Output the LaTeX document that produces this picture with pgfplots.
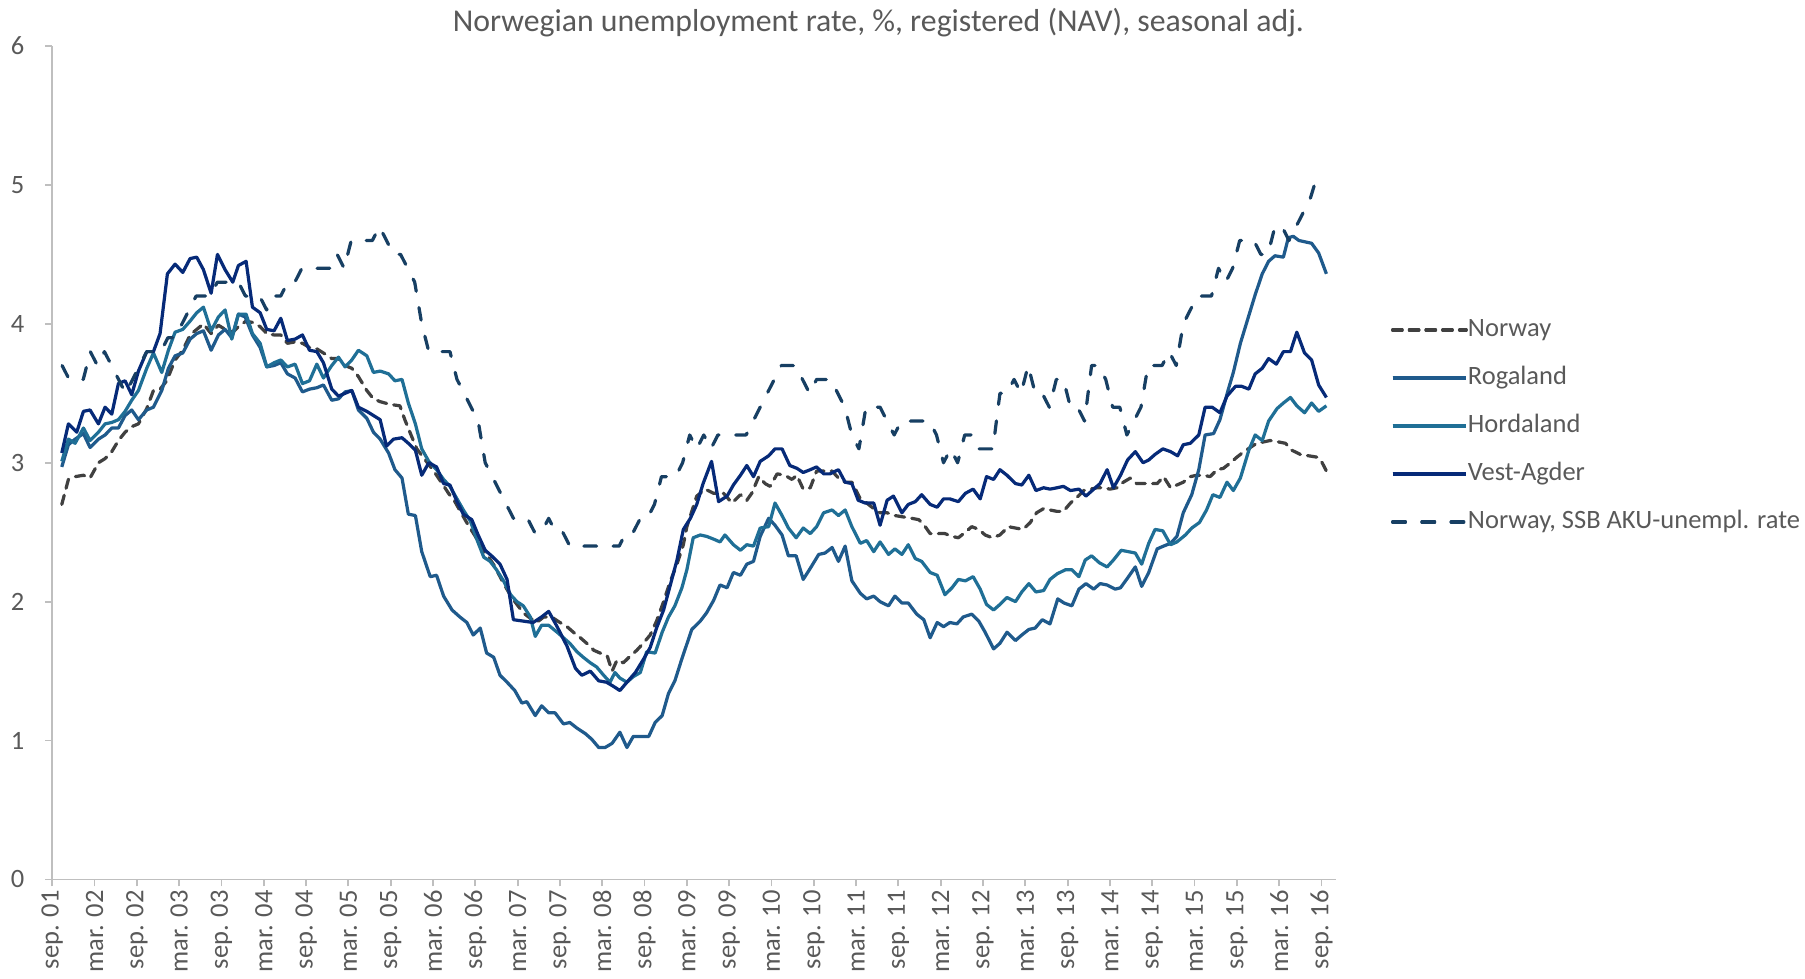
\documentclass[border=0pt]{standalone}
\usepackage{fontspec}
\setmainfont{Carlito}
\usepackage{pgfplots}
\pgfplotsset{compat=1.18}
\definecolor{txtgrey}{HTML}{595959}
\definecolor{axgrey}{HTML}{BFBFBF}
\definecolor{cNorway}{HTML}{404040}
\definecolor{cRoga}{HTML}{1F5A8C}
\definecolor{cHorda}{HTML}{1F6F96}
\definecolor{cVest}{HTML}{062A78}
\definecolor{cSSB}{HTML}{173F63}
\begin{document}
\begin{tikzpicture}
\useasboundingbox (0,0) rectangle (784pt,425pt);
\node[text=txtgrey, font=\fontsize{13.8}{16}\selectfont] at (381.5pt,415pt) {Norwegian unemployment rate, \%, registered (NAV), seasonal adj.};
\begin{axis}[
  at={(22.7pt,43pt)}, anchor=south west,
  scale only axis, width=557.4pt, height=362pt,
  xmin=0, xmax=182, ymin=0, ymax=6,
  axis lines*=left,
  axis line style={draw=axgrey, line width=0.8pt},
  tick style={draw=axgrey, line width=0.8pt},
  tick align=outside, major tick length=3pt,
  xtick={0,6,...,180},
  xticklabels={sep. 01,mar. 02,sep. 02,mar. 03,sep. 03,mar. 04,sep. 04,mar. 05,sep. 05,mar. 06,sep. 06,mar. 07,sep. 07,mar. 08,sep. 08,mar. 09,sep. 09,mar. 10,sep. 10,mar. 11,sep. 11,mar. 12,sep. 12,mar. 13,sep. 13,mar. 14,sep. 14,mar. 15,sep. 15,mar. 16,sep. 16},
  xticklabel style={rotate=90, anchor=east, inner sep=1.5pt, text=txtgrey, font=\fontsize{11.5}{13}\selectfont},
  ytick={0,1,2,3,4,5,6},
  yticklabels={0,1,2,3,4,5,6},
  yticklabel style={inner sep=0pt, xshift=-9pt, anchor=east, text=txtgrey, font=\fontsize{11.5}{13}\selectfont},
  line join=round,
  legend cell align=left,
  legend style={at={(1.0429,0.6743)}, anchor=north west, draw=none, fill=none, inner sep=0pt,
    row sep=10.35pt, font=\fontsize{11.5}{13}\selectfont, text=txtgrey,
    nodes={inner sep=0pt, text height=8pt, text depth=2.5pt}},
  legend image code/.code={\draw[#1] (0pt,0pt) -- (27.5pt,0pt); \path (0pt,0pt) -- (32pt,0pt);},
]
% Norway (NAV)
\addplot[cNorway, line width=1.4pt, line cap=round, dash pattern=on 4.1pt off 3.15pt] coordinates {
(1.35,2.70)(2.29,2.88)(3.24,2.90)(4.42,2.91)(5.36,2.89)(6.55,3.00)(7.49,3.03)(8.44,3.08)(9.38,3.16)(10.33,3.22)(11.27,3.26)(12.22,3.28)(13.40,3.39)(14.35,3.52)(15.29,3.53)(16.24,3.59)(17.42,3.74)(18.51,3.81)(19.55,3.92)(20.49,3.96)(21.44,4.00)(22.53,3.93)(23.57,3.99)(24.51,3.96)(25.60,3.94)(26.40,3.98)(27.49,4.02)(28.39,4.01)(29.48,3.98)(30.42,3.93)(31.46,3.92)(32.41,3.92)(33.35,3.86)(34.44,3.87)(35.48,3.86)(36.48,3.83)(37.52,3.82)(38.46,3.79)(39.64,3.75)(40.59,3.75)(41.53,3.70)(42.48,3.68)(43.42,3.62)(44.61,3.52)(45.55,3.46)(46.50,3.44)
(47.9,3.42)(49.3,3.41)(50.0,3.31)(50.8,3.21)(51.7,3.10)(52.9,3.02)(54.1,2.94)(55.3,2.85)(56.2,2.78)(57.1,2.72)(58.1,2.63)(59.0,2.55)(60.0,2.47)(60.9,2.38)(61.9,2.32)(62.8,2.25)(63.8,2.15)(64.7,2.07)(65.6,2.00)(66.8,1.92)(67.8,1.88)(68.7,1.85)(69.7,1.89)(70.8,1.89)(72.0,1.85)(73.0,1.82)(73.9,1.78)(74.9,1.74)(75.8,1.70)(76.8,1.65)(77.7,1.63)(78.7,1.61)(79.4,1.50)(80.1,1.58)(81.0,1.56)(82.0,1.61)(82.9,1.65)(83.8,1.70)(84.8,1.76)(85.7,1.86)(86.7,2.00)(87.6,2.14)(88.6,2.27)(89.5,2.41)
(90.0,2.54)(91.4,2.76)(92.6,2.81)(93.8,2.78)(95.2,2.78)(96.4,2.71)(97.6,2.77)(98.5,2.73)(99.2,2.78)(100.2,2.90)(101.1,2.85)(101.8,2.83)(102.8,2.92)(103.9,2.91)(104.9,2.88)(105.6,2.91)(106.5,2.81)(107.5,2.82)(108.4,2.94)(109.4,2.94)(110.6,2.94)(111.5,2.89)(112.45,2.86)(113.4,2.86)(114.6,2.74)(115.5,2.71)(116.5,2.67)(117.4,2.64)(118.4,2.64)(119.5,2.62)(120.7,2.61)(121.9,2.60)(122.9,2.59)(123.8,2.54)(124.5,2.49)(125.5,2.49)(126.6,2.49)(127.6,2.47)(128.5,2.46)(129.5,2.50)(130.4,2.54)(131.4,2.52)(132.3,2.48)(133.3,2.46)
(134.4,2.48)(135.6,2.54)(136.6,2.53)(137.7,2.52)(138.7,2.57)(139.6,2.64)(140.6,2.67)(141.5,2.66)(142.5,2.65)(143.4,2.65)(144.4,2.71)(145.3,2.75)(146.3,2.80)(147.2,2.81)(148.2,2.82)(149.1,2.82)(150.0,2.81)(151.0,2.82)(151.9,2.86)(152.9,2.89)(153.8,2.85)(154.8,2.85)(155.7,2.85)(156.7,2.85)(157.6,2.90)(158.6,2.82)(159.5,2.84)(160.4,2.86)(161.4,2.90)(162.3,2.91)(163.3,2.91)(164.2,2.90)(165.2,2.95)(166.1,2.96)(167.1,3.00)(168.0,3.04)(169.0,3.08)(169.9,3.11)(170.8,3.14)(171.8,3.15)(172.7,3.16)(173.9,3.15)(174.9,3.14)(175.8,3.09)(177.0,3.06)(178.2,3.05)(179.4,3.04)(180.1,3.00)(180.7,2.94)
};
\addlegendentry{Norway}
% Rogaland
\addplot[cRoga, line width=1.4pt] coordinates {
(1.35,2.97)(2.29,3.13)(3.24,3.17)(4.42,3.21)(5.36,3.11)(6.55,3.17)(7.49,3.20)(8.44,3.25)(9.38,3.25)(10.33,3.34)(11.27,3.38)(12.22,3.31)(13.40,3.38)(14.35,3.40)(15.53,3.52)(16.47,3.68)(17.42,3.77)(18.51,3.79)(19.55,3.89)(20.49,3.93)(21.44,3.95)(22.53,3.81)(23.57,3.92)(24.51,3.96)(25.46,3.90)(26.40,4.07)(27.35,4.05)(28.39,3.92)(29.48,3.83)(30.42,3.69)(31.46,3.70)(32.41,3.72)(33.35,3.64)(34.44,3.61)(35.48,3.51)(36.48,3.53)(37.52,3.54)(38.46,3.56)(39.64,3.45)(40.59,3.46)(41.53,3.51)(42.48,3.52)(43.42,3.38)(44.61,3.32)(45.55,3.22)(46.50,3.17)
(47.7,3.07)(48.6,2.95)(49.6,2.89)(50.5,2.63)(51.5,2.62)(52.4,2.36)(53.6,2.18)(54.5,2.19)(55.5,2.04)(56.7,1.94)(57.8,1.89)(58.8,1.85)(59.7,1.76)(60.7,1.81)(61.6,1.63)(62.6,1.60)(63.5,1.47)(64.5,1.42)(65.6,1.36)(66.6,1.27)(67.3,1.28)(68.5,1.18)(69.4,1.25)(70.4,1.20)(71.3,1.20)(72.5,1.12)(73.4,1.13)(74.4,1.09)(75.6,1.05)(76.5,1.01)(77.5,0.95)(78.4,0.95)(79.4,0.98)(80.5,1.06)(81.5,0.95)(82.4,1.03)(83.6,1.03)(84.6,1.03)(85.5,1.13)(86.5,1.18)(87.4,1.34)(88.3,1.43)(89.3,1.59)
(90.7,1.80)(91.9,1.86)(92.8,1.92)(93.8,2.01)(94.7,2.12)(95.7,2.10)(96.6,2.21)(97.6,2.19)(98.5,2.27)(99.45,2.29)(100.4,2.47)(101.6,2.60)(102.5,2.55)(103.5,2.48)(104.4,2.33)(105.5,2.33)(106.5,2.16)(107.5,2.24)(108.7,2.34)(109.6,2.35)(110.6,2.39)(111.5,2.29)(112.45,2.40)(113.4,2.15)(114.6,2.06)(115.5,2.02)(116.5,2.04)(117.4,2.00)(118.6,1.97)(119.5,2.04)(120.5,1.99)(121.4,1.99)(122.6,1.91)(123.6,1.87)(124.5,1.74)(125.5,1.85)(126.4,1.82)(127.3,1.85)(128.3,1.84)(129.2,1.89)(130.4,1.91)(131.4,1.86)(132.3,1.78)(133.5,1.66)
(134.4,1.70)(135.4,1.78)(136.6,1.72)(137.5,1.76)(138.5,1.80)(139.4,1.81)(140.4,1.87)(141.5,1.84)(142.6,2.02)(143.5,1.99)(144.6,1.97)(145.6,2.09)(146.6,2.13)(147.7,2.09)(148.6,2.13)(149.6,2.12)(150.75,2.09)(151.5,2.10)(152.5,2.17)(153.6,2.25)(154.5,2.11)(155.5,2.21)(156.7,2.38)(157.6,2.40)(158.6,2.42)(159.5,2.47)(160.4,2.64)(161.6,2.77)(162.6,2.95)(163.5,3.20)(164.7,3.21)(165.6,3.31)(166.8,3.53)(167.5,3.65)(168.5,3.86)(169.7,4.06)(170.6,4.21)(171.6,4.36)(172.5,4.45)(173.4,4.49)(174.6,4.48)(175.3,4.62)(176.0,4.63)(176.8,4.60)(177.7,4.59)(178.6,4.58)(179.6,4.51)(180.7,4.36)
};
\addlegendentry{Rogaland}
% Hordaland
\addplot[cHorda, line width=1.4pt] coordinates {
(1.35,3.01)(2.29,3.17)(3.24,3.14)(4.42,3.25)(5.36,3.16)(6.55,3.22)(7.49,3.28)(8.44,3.29)(9.38,3.31)(10.33,3.37)(11.27,3.45)(12.22,3.52)(13.40,3.68)(14.35,3.79)(15.53,3.65)(16.47,3.81)(17.42,3.94)(18.51,3.96)(19.55,4.02)(20.49,4.08)(21.44,4.12)(22.53,3.95)(23.57,4.05)(24.51,4.10)(25.46,3.89)(26.40,4.07)(27.49,4.07)(28.39,3.93)(29.48,3.86)(30.42,3.69)(31.46,3.72)(32.41,3.74)(33.35,3.69)(34.44,3.71)(35.48,3.57)(36.48,3.59)(37.52,3.71)(38.46,3.61)(39.64,3.70)(40.59,3.76)(41.53,3.69)(42.48,3.74)(43.42,3.81)(44.61,3.77)(45.55,3.65)(46.50,3.66)
(47.7,3.64)(48.6,3.59)(49.6,3.60)(50.5,3.43)(51.5,3.28)(52.4,3.10)(53.4,3.01)(54.5,2.95)(55.5,2.88)(56.4,2.83)(57.4,2.74)(58.3,2.66)(59.3,2.58)(60.2,2.45)(61.2,2.32)(62.1,2.29)(63.0,2.23)(64.0,2.15)(65.0,2.05)(65.9,2.00)(66.8,1.97)(67.8,1.89)(68.5,1.75)(69.4,1.83)(70.4,1.83)(71.6,1.78)(72.5,1.74)(73.4,1.70)(74.4,1.64)(75.3,1.60)(76.3,1.56)(77.2,1.53)(78.2,1.47)(79.1,1.42)(79.8,1.49)(80.5,1.45)(81.5,1.42)(82.4,1.46)(83.4,1.49)(84.3,1.64)(85.5,1.63)(86.5,1.78)(87.4,1.89)(88.3,1.97)(89.3,2.10)
(90.0,2.23)(90.9,2.46)(91.9,2.48)(92.8,2.47)(93.8,2.45)(94.7,2.43)(95.4,2.48)(96.6,2.41)(97.6,2.37)(98.5,2.41)(99.45,2.40)(100.4,2.53)(101.6,2.54)(102.5,2.71)(103.5,2.62)(104.4,2.53)(105.5,2.46)(106.5,2.53)(107.5,2.49)(108.4,2.54)(109.4,2.64)(110.6,2.66)(111.5,2.62)(112.45,2.66)(113.4,2.54)(114.6,2.42)(115.5,2.44)(116.5,2.36)(117.4,2.43)(118.6,2.34)(119.5,2.38)(120.5,2.34)(121.4,2.41)(122.4,2.31)(123.3,2.29)(124.5,2.21)(125.5,2.19)(126.6,2.05)(127.6,2.10)(128.5,2.16)(129.5,2.15)(130.6,2.18)(131.6,2.09)(132.5,1.98)(133.5,1.94)
(134.4,1.98)(135.4,2.03)(136.6,2.00)(137.5,2.07)(138.5,2.13)(139.5,2.07)(140.6,2.08)(141.5,2.16)(142.5,2.20)(143.7,2.23)(144.6,2.23)(145.6,2.18)(146.5,2.30)(147.4,2.33)(148.5,2.28)(149.6,2.25)(150.5,2.30)(151.6,2.37)(152.6,2.36)(153.6,2.35)(154.5,2.27)(155.5,2.42)(156.4,2.52)(157.5,2.51)(158.6,2.41)(159.5,2.43)(160.7,2.48)(161.6,2.53)(162.7,2.57)(163.7,2.66)(164.6,2.77)(165.6,2.75)(166.6,2.86)(167.5,2.80)(168.5,2.89)(169.7,3.09)(170.6,3.20)(171.6,3.16)(172.5,3.30)(173.7,3.39)(174.6,3.43)(175.6,3.47)(176.5,3.41)(177.6,3.36)(178.6,3.43)(179.6,3.37)(180.7,3.41)
};
\addlegendentry{Hordaland}
% Vest-Agder
\addplot[cVest, line width=1.4pt] coordinates {
(1.35,3.07)(2.29,3.28)(3.47,3.22)(4.42,3.37)(5.36,3.38)(6.55,3.28)(7.49,3.40)(8.44,3.35)(9.38,3.57)(10.33,3.59)(11.27,3.49)(12.22,3.66)(13.40,3.80)(14.35,3.80)(15.29,3.93)(16.33,4.36)(17.42,4.43)(18.51,4.37)(19.55,4.47)(20.49,4.48)(21.44,4.39)(22.53,4.22)(23.43,4.50)(24.51,4.39)(25.60,4.30)(26.40,4.42)(27.49,4.45)(28.39,4.12)(29.48,4.08)(30.42,3.96)(31.46,3.95)(32.41,4.04)(33.35,3.88)(34.44,3.89)(35.48,3.92)(36.48,3.81)(37.52,3.80)(38.46,3.72)(39.64,3.53)(40.59,3.48)(41.53,3.50)(42.48,3.52)(43.42,3.40)(44.61,3.37)(45.55,3.34)(46.50,3.31)
(47.4,3.12)(48.4,3.17)(49.6,3.18)(50.5,3.14)(51.5,3.09)(52.4,2.91)(53.4,3.00)(54.5,2.97)(55.5,2.85)(56.4,2.84)(57.4,2.72)(58.3,2.63)(59.5,2.59)(60.4,2.48)(61.4,2.37)(62.3,2.33)(63.5,2.27)(64.5,2.16)(65.4,1.87)(66.8,1.86)(68.2,1.85)(69.4,1.89)(70.4,1.93)(71.6,1.82)(73.0,1.68)(74.2,1.52)(75.1,1.47)(76.3,1.50)(77.5,1.43)(78.6,1.42)(79.6,1.39)(80.5,1.36)(81.5,1.42)(82.7,1.49)(83.9,1.59)(84.8,1.67)(85.7,1.81)(86.7,1.94)(87.6,2.11)(88.6,2.30)
(89.5,2.52)(90.5,2.60)(91.4,2.70)(92.3,2.85)(93.5,3.01)(94.5,2.72)(95.7,2.76)(96.6,2.84)(97.6,2.91)(98.5,2.98)(99.45,2.90)(100.4,3.01)(101.6,3.05)(102.5,3.10)(103.5,3.10)(104.6,2.98)(105.6,2.96)(106.5,2.93)(107.5,2.95)(108.4,2.97)(109.4,2.92)(110.3,2.92)(111.5,2.95)(112.45,2.86)(113.4,2.85)(114.3,2.73)(115.3,2.71)(116.5,2.71)(117.4,2.55)(118.4,2.73)(119.3,2.76)(120.5,2.64)(121.4,2.70)(122.4,2.72)(123.3,2.77)(124.5,2.70)(125.5,2.68)(126.4,2.74)(127.3,2.74)(128.5,2.72)(129.5,2.78)(130.6,2.81)(131.6,2.74)(132.5,2.90)(133.5,2.88)
(134.4,2.95)(135.4,2.91)(136.6,2.85)(137.5,2.84)(138.5,2.91)(139.5,2.80)(140.6,2.82)(141.5,2.81)(142.5,2.82)(143.4,2.83)(144.4,2.80)(145.6,2.81)(146.6,2.76)(147.7,2.81)(148.6,2.85)(149.6,2.95)(150.5,2.82)(151.5,2.91)(152.5,3.02)(153.6,3.08)(154.7,3.00)(155.5,3.02)(156.4,3.06)(157.5,3.10)(158.6,3.08)(159.6,3.05)(160.4,3.13)(161.4,3.14)(162.6,3.20)(163.5,3.40)(164.5,3.40)(165.6,3.36)(166.6,3.48)(167.8,3.55)(168.7,3.55)(169.7,3.53)(170.6,3.64)(171.6,3.68)(172.5,3.75)(173.6,3.71)(174.6,3.80)(175.6,3.80)(176.5,3.94)(177.6,3.79)(178.6,3.74)(179.6,3.56)(180.7,3.47)
};
\addlegendentry{Vest-Agder}
% Norway, SSB AKU
\addplot[cSSB, line width=1.4pt, line cap=round, dash pattern=on 5.5pt off 7.2pt] coordinates {
(1.4,3.7)(2.4,3.6)(3.4,3.6)(4.4,3.6)(5.4,3.8)(6.4,3.7)(7.4,3.8)(8.4,3.7)(9.4,3.6)(10.4,3.5)(11.4,3.6)(12.4,3.7)(13.4,3.8)(14.4,3.8)(15.4,3.8)(16.4,3.9)(17.4,3.9)(18.4,4.0)(19.4,4.1)(20.4,4.2)(21.4,4.2)(22.4,4.2)(23.4,4.3)(24.4,4.3)(25.4,4.3)(26.4,4.3)(27.4,4.2)(28.4,4.2)(29.4,4.2)(30.4,4.1)(31.4,4.2)(32.4,4.2)(33.4,4.3)(34.4,4.3)(35.4,4.4)(36.4,4.4)(37.4,4.4)(38.4,4.4)(39.4,4.4)(40.4,4.5)(41.4,4.4)(42.4,4.6)(43.4,4.6)(44.4,4.6)(45.4,4.6)(46.4,4.7)(47.4,4.6)(48.4,4.5)(49.4,4.5)(50.4,4.4)(51.4,4.3)(52.4,4.0)(53.4,3.8)(54.4,3.8)(55.4,3.8)(56.4,3.8)(57.4,3.6)(58.4,3.5)(59.4,3.4)(60.4,3.3)(61.4,3.0)(62.4,2.9)(63.4,2.8)(64.4,2.7)(65.4,2.6)(66.4,2.6)(67.4,2.6)(68.4,2.5)(69.4,2.5)(70.4,2.6)(71.4,2.5)(72.4,2.5)(73.4,2.4)(74.4,2.4)(75.4,2.4)(76.4,2.4)(77.4,2.4)(78.4,2.4)(79.4,2.4)(80.4,2.4)(81.4,2.5)(82.4,2.5)(83.4,2.6)(84.4,2.6)(85.4,2.7)(86.4,2.9)(87.4,2.9)(88.4,2.9)(89.4,3.0)(90.4,3.2)(91.4,3.1)(92.4,3.2)(93.4,3.1)(94.4,3.2)(95.4,3.2)(96.4,3.2)(97.4,3.2)(98.4,3.2)(99.4,3.3)(100.4,3.4)(101.4,3.5)(102.4,3.6)(103.4,3.7)(104.4,3.7)(105.4,3.7)(106.4,3.6)(107.4,3.5)(108.4,3.6)(109.4,3.6)(110.4,3.6)(111.4,3.5)(112.4,3.4)(113.4,3.2)(114.4,3.1)(115.4,3.4)(116.4,3.4)(117.4,3.4)(118.4,3.3)(119.4,3.2)(120.4,3.3)(121.4,3.3)(122.4,3.3)(123.4,3.3)(124.4,3.3)(125.4,3.2)(126.4,3.0)(127.4,3.1)(128.4,3.0)(129.4,3.2)(130.4,3.2)(131.4,3.1)(132.4,3.1)(133.4,3.1)(134.4,3.5)(135.4,3.5)(136.4,3.6)(137.4,3.5)(138.4,3.7)(139.4,3.5)(140.4,3.5)(141.4,3.4)(142.4,3.6)(143.4,3.6)(144.4,3.4)(145.4,3.4)(146.4,3.3)(147.4,3.7)(148.4,3.7)(149.4,3.6)(150.4,3.4)(151.4,3.4)(152.4,3.2)(153.4,3.3)(154.4,3.4)(155.4,3.7)(156.4,3.7)(157.4,3.7)(158.4,3.8)(159.4,3.7)(160.4,4.0)(161.4,4.1)(162.4,4.2)(163.4,4.2)(164.4,4.2)(165.4,4.4)(166.4,4.3)(167.4,4.4)(168.4,4.6)(169.4,4.6)(170.4,4.6)(171.4,4.5)(172.4,4.5)(173.4,4.7)(174.4,4.7)(175.4,4.6)(176.4,4.7)(177.4,4.8)(178.4,4.9)(179.0,5.0)
};
\addlegendentry{Norway, SSB AKU-unempl. rate}
\end{axis}
\end{tikzpicture}
\end{document}
